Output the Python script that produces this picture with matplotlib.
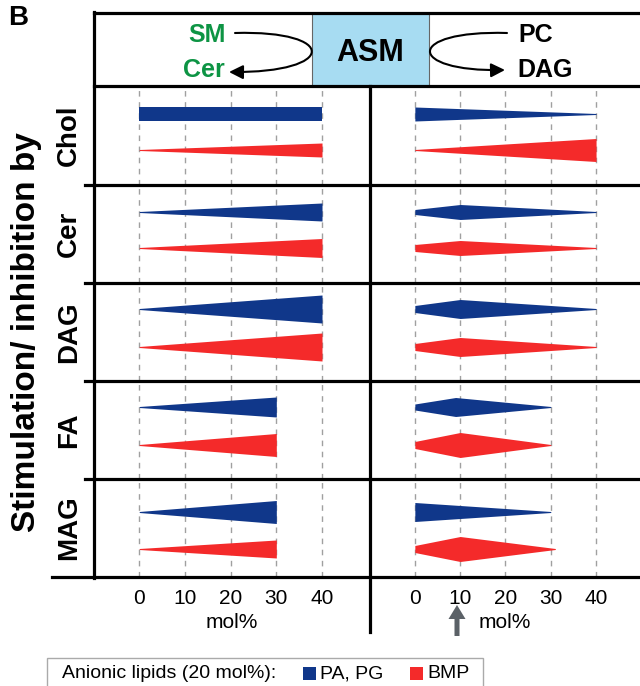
import matplotlib
matplotlib.use("Agg")
import matplotlib.pyplot as plt
from matplotlib.patches import Rectangle, FancyArrowPatch
from matplotlib.path import Path

plt.rcParams["font.family"] = ["Liberation Sans", "DejaVu Sans"]

# data: thickness profile of each wedge (x knots in mol%, thickness in arbitrary units)
ROWS = ["Chol", "Cer", "DAG", "FA", "MAG"]
TICKS = [0, 10, 20, 30, 40]

# SM -> Cer (left panel)
LEFT_BLUE_X = [[0, 40], [0, 40], [0, 40], [0, 30], [0, 30]]
LEFT_BLUE_W = [[14, 14], [1, 18], [1, 28], [1, 20], [1, 23]]
LEFT_RED_X = [[0, 40], [0, 40], [0, 40], [0, 30], [0, 30]]
LEFT_RED_W = [[1, 14], [1, 19], [1, 28], [1, 23], [1, 18]]

# PC -> DAG (right panel)
RIGHT_BLUE_X = [[0, 40], [0, 10, 40], [0, 10, 40], [0, 9, 30], [0, 30]]
RIGHT_BLUE_W = [[14, 1], [5, 15, 1], [7, 19, 1], [6, 19, 1], [19, 1]]
RIGHT_RED_X = [[0, 40], [0, 10, 40], [0, 10, 40], [0, 10, 30], [0, 10, 31]]
RIGHT_RED_W = [[1, 23], [7, 15, 1], [7, 19, 1], [7, 25, 1], [7, 25, 1]]

BLUE = "#10378a"
RED = "#f42a2a"
GREEN = "#0d9444"

W, H = 640, 686
fig = plt.figure(figsize=(W / 100, H / 100), dpi=100)

ROW_TOP = [86, 185, 283, 381, 479]
ROW_BOT = [185, 283, 381, 479, 577]
LANES = [(28, 64), (27, 63), (26, 64), (26, 64), (33, 70)]
PANELS = [(94, 370, (-9.9, 50.5)), (370, 640, (-9.9, 49.7))]


def fx(px):
    return px / W


def fy(py):
    return 1 - py / H


panel_data = [
    (LEFT_BLUE_X, LEFT_BLUE_W, LEFT_RED_X, LEFT_RED_W),
    (RIGHT_BLUE_X, RIGHT_BLUE_W, RIGHT_RED_X, RIGHT_RED_W),
]

for p, (x0, x1, xlim) in enumerate(PANELS):
    bx, bw, rx, rw = panel_data[p]
    for r in range(len(ROWS)):
        top, bot = ROW_TOP[r], ROW_BOT[r]
        ax = fig.add_axes([fx(x0), fy(bot), fx(x1 - x0), (bot - top) / H])
        ax.set_xlim(*xlim)
        ax.set_ylim(bot - top, 0)
        for s in ax.spines.values():
            s.set_visible(False)
        for t in TICKS:
            ax.axvline(t, color="#a0a0a0", lw=1.0, dashes=(4, 4), zorder=1)
        for xs, ws, c, lane in [(bx[r], bw[r], BLUE, LANES[r][0]),
                                (rx[r], rw[r], RED, LANES[r][1])]:
            lo = [lane - w / 2 for w in ws]
            hi = [lane + w / 2 for w in ws]
            ax.fill_between(xs, lo, hi, color=c, lw=0, zorder=2)
        ax.set_yticks([])
        if r == len(ROWS) - 1:
            ax.set_xticks(TICKS)
            ax.set_xticklabels([str(t) for t in TICKS], fontsize=15)
            ax.tick_params(axis="x", length=0, pad=9)
            ax.set_xlabel("mol%", fontsize=15, labelpad=3)
        else:
            ax.set_xticks([])

# overlay in pixel coordinates for frame, header and labels
ov = fig.add_axes([0, 0, 1, 1], zorder=5)
ov.set_xlim(0, W)
ov.set_ylim(H, 0)
ov.axis("off")

LW = 2.3
ov.plot([94, 640], [13, 13], color="black", lw=LW)
ov.plot([94, 640], [86, 86], color="black", lw=LW)
for y in ROW_BOT[:-1]:
    ov.plot([85, 640], [y, y], color="black", lw=LW)
ov.plot([52, 640], [577, 577], color="black", lw=LW)
ov.plot([94, 94], [12, 578], color="black", lw=LW)
ov.plot([370, 370], [86, 632], color="black", lw=LW)

# header
ov.add_patch(Rectangle((312, 13), 117, 73, facecolor="#a7dcf2",
                       edgecolor="#666666", lw=0.8, zorder=1))
ov.text(370, 53, "ASM", fontsize=22, fontweight="bold", ha="center", va="center")
ov.text(207, 35, "SM", fontsize=18, fontweight="bold", color=GREEN, ha="center", va="center")
ov.text(204, 70, "Cer", fontsize=18, fontweight="bold", color=GREEN, ha="center", va="center")
ov.text(536, 35, "PC", fontsize=18, fontweight="bold", ha="center", va="center")
ov.text(545, 70, "DAG", fontsize=18, fontweight="bold", ha="center", va="center")

for verts in [[(235, 33), (338, 30), (338, 73), (229, 72)],
              [(507, 33), (405, 30), (405, 72), (505, 70)]]:
    path = Path(verts, [Path.MOVETO, Path.CURVE4, Path.CURVE4, Path.CURVE4])
    ov.add_patch(FancyArrowPatch(path=path, arrowstyle="-|>,head_length=0.6,head_width=0.3",
                                 mutation_scale=14, color="black", lw=1.5))

ov.text(18, 18, "B", fontsize=20, fontweight="bold", ha="center", va="center")

# row labels
for r, name in enumerate(ROWS):
    ov.text(69, (ROW_TOP[r] + ROW_BOT[r]) / 2, name, fontsize=20, fontweight="bold",
            rotation=90, ha="center", va="center")
ov.text(27, 332, "Stimulation/ inhibition by", fontsize=24, fontweight="bold",
        rotation=90, ha="center", va="center")

# arrow under 10 mol%
ov.arrow(457, 636, 0, -31, width=5, head_width=17, head_length=14,
         length_includes_head=True, color="#5b6167", lw=0)

# legend
ov.add_patch(Rectangle((47, 658), 436, 34, facecolor="white", edgecolor="#aaaaaa", lw=1))
ov.text(62, 674, "Anionic lipids (20 mol%):", fontsize=14, va="center")
ov.add_patch(Rectangle((303, 667), 13, 13, facecolor=BLUE, lw=0))
ov.text(320, 674, "PA, PG", fontsize=14, va="center")
ov.add_patch(Rectangle((410, 667), 13, 13, facecolor=RED, lw=0))
ov.text(427, 674, "BMP", fontsize=14, va="center")

fig.savefig("out.png", dpi=100)
